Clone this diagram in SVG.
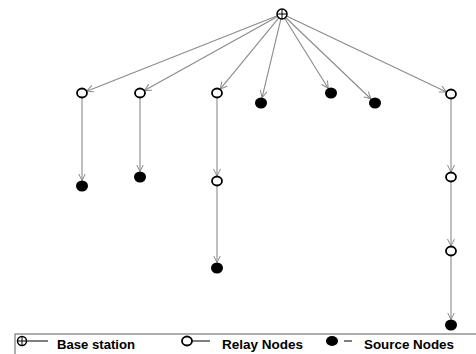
<svg xmlns="http://www.w3.org/2000/svg" width="476" height="354" viewBox="0 0 476 354">
<style>
.e{stroke:#8a8a8a;stroke-width:1.1;fill:none;marker-end:url(#a)}
.r{fill:#fff;stroke:#000;stroke-width:1.8}
.s{fill:#000}
.t{font-family:"Liberation Sans",Arial,sans-serif;font-weight:bold;font-size:12.5px;fill:#000}
.l{stroke:#000;stroke-width:1}
</style>
<defs>
<marker id="a" markerUnits="userSpaceOnUse" markerWidth="10" markerHeight="10" refX="7" refY="4" orient="auto">
<path d="M0,0.5 L7,4 L0,7.5" fill="none" stroke="#8a8a8a" stroke-width="1"/>
</marker>
</defs>
<rect width="476" height="354" fill="#fff"/>
<g id="connectors">
<line class="e" x1="277.3" y1="15.8" x2="86.7" y2="91.2"/>
<line class="e" x1="277.6" y1="16.4" x2="144.4" y2="90.6"/>
<line class="e" x1="278.8" y1="17.9" x2="220.2" y2="89.1"/>
<line class="e" x1="280.9" y1="18.9" x2="262.1" y2="97.6"/>
<line class="e" x1="284.6" y1="18.2" x2="328.2" y2="88.3"/>
<line class="e" x1="285.6" y1="17.5" x2="371" y2="99"/>
<line class="e" x1="286.5" y1="16.1" x2="446.5" y2="91.9"/>
<line class="e" x1="82" y1="98" x2="82" y2="180.5"/>
<line class="e" x1="140" y1="98" x2="140" y2="171.5"/>
<line class="e" x1="217" y1="98" x2="217" y2="176"/>
<line class="e" x1="217" y1="186" x2="217" y2="262.5"/>
<line class="e" x1="451" y1="99" x2="451" y2="172"/>
<line class="e" x1="451" y1="182" x2="451" y2="246"/>
<line class="e" x1="451" y1="256" x2="451" y2="319.5"/>
</g>
<g id="base">
<circle cx="282" cy="14" r="5" fill="#fff" stroke="#000" stroke-width="1.5"/>
<line class="l" x1="277" y1="14" x2="287" y2="14"/>
<line class="l" x1="282" y1="9" x2="282" y2="19"/>
</g>
<g id="r1"><ellipse class="r" cx="82" cy="93" rx="5" ry="4.5"/></g>
<g id="r2"><ellipse class="r" cx="140" cy="93" rx="5" ry="4.5"/></g>
<g id="r3"><ellipse class="r" cx="217" cy="93" rx="5" ry="4.5"/></g>
<g id="r4"><ellipse class="r" cx="451" cy="94" rx="5" ry="4.5"/></g>
<g id="r5"><ellipse class="r" cx="217" cy="181" rx="5" ry="4.5"/></g>
<g id="r6"><ellipse class="r" cx="451" cy="177" rx="5" ry="4.5"/></g>
<g id="r7"><ellipse class="r" cx="451" cy="251" rx="5" ry="4.5"/></g>
<g id="s1"><ellipse class="s" cx="261" cy="103" rx="6" ry="5.5"/></g>
<g id="s2"><ellipse class="s" cx="331" cy="93" rx="6" ry="5.5"/></g>
<g id="s3"><ellipse class="s" cx="375" cy="103" rx="6" ry="5.5"/></g>
<g id="s4"><ellipse class="s" cx="82" cy="186" rx="6" ry="5.5"/></g>
<g id="s5"><ellipse class="s" cx="140" cy="177" rx="6" ry="5.5"/></g>
<g id="s6"><ellipse class="s" cx="217" cy="268" rx="6" ry="5.5"/></g>
<g id="s7"><ellipse class="s" cx="451" cy="325" rx="6" ry="5.5"/></g>
<g id="legend">
<rect x="15" y="334" width="470" height="40" fill="none" stroke="#777" stroke-width="1.2"/>
<circle cx="22" cy="341" r="4.5" fill="#fff" stroke="#000" stroke-width="1.5"/>
<line class="l" x1="17.5" y1="341" x2="26.5" y2="341"/>
<line class="l" x1="22" y1="336.5" x2="22" y2="345.5"/>
<line class="l" x1="27" y1="341" x2="48" y2="341"/>
<text class="t" x="57" y="348.5" textLength="78" lengthAdjust="spacingAndGlyphs">Base station</text>
<ellipse class="r" cx="187" cy="341" rx="5" ry="4.5"/>
<line class="l" x1="192" y1="341" x2="210" y2="341"/>
<text class="t" x="222" y="348.5" textLength="81" lengthAdjust="spacingAndGlyphs">Relay Nodes</text>
<ellipse class="s" cx="332" cy="341" rx="6" ry="5"/>
<line class="l" x1="344" y1="341" x2="352" y2="341"/>
<text class="t" x="364" y="348.5" textLength="90" lengthAdjust="spacingAndGlyphs">Source Nodes</text>
</g>
</svg>
